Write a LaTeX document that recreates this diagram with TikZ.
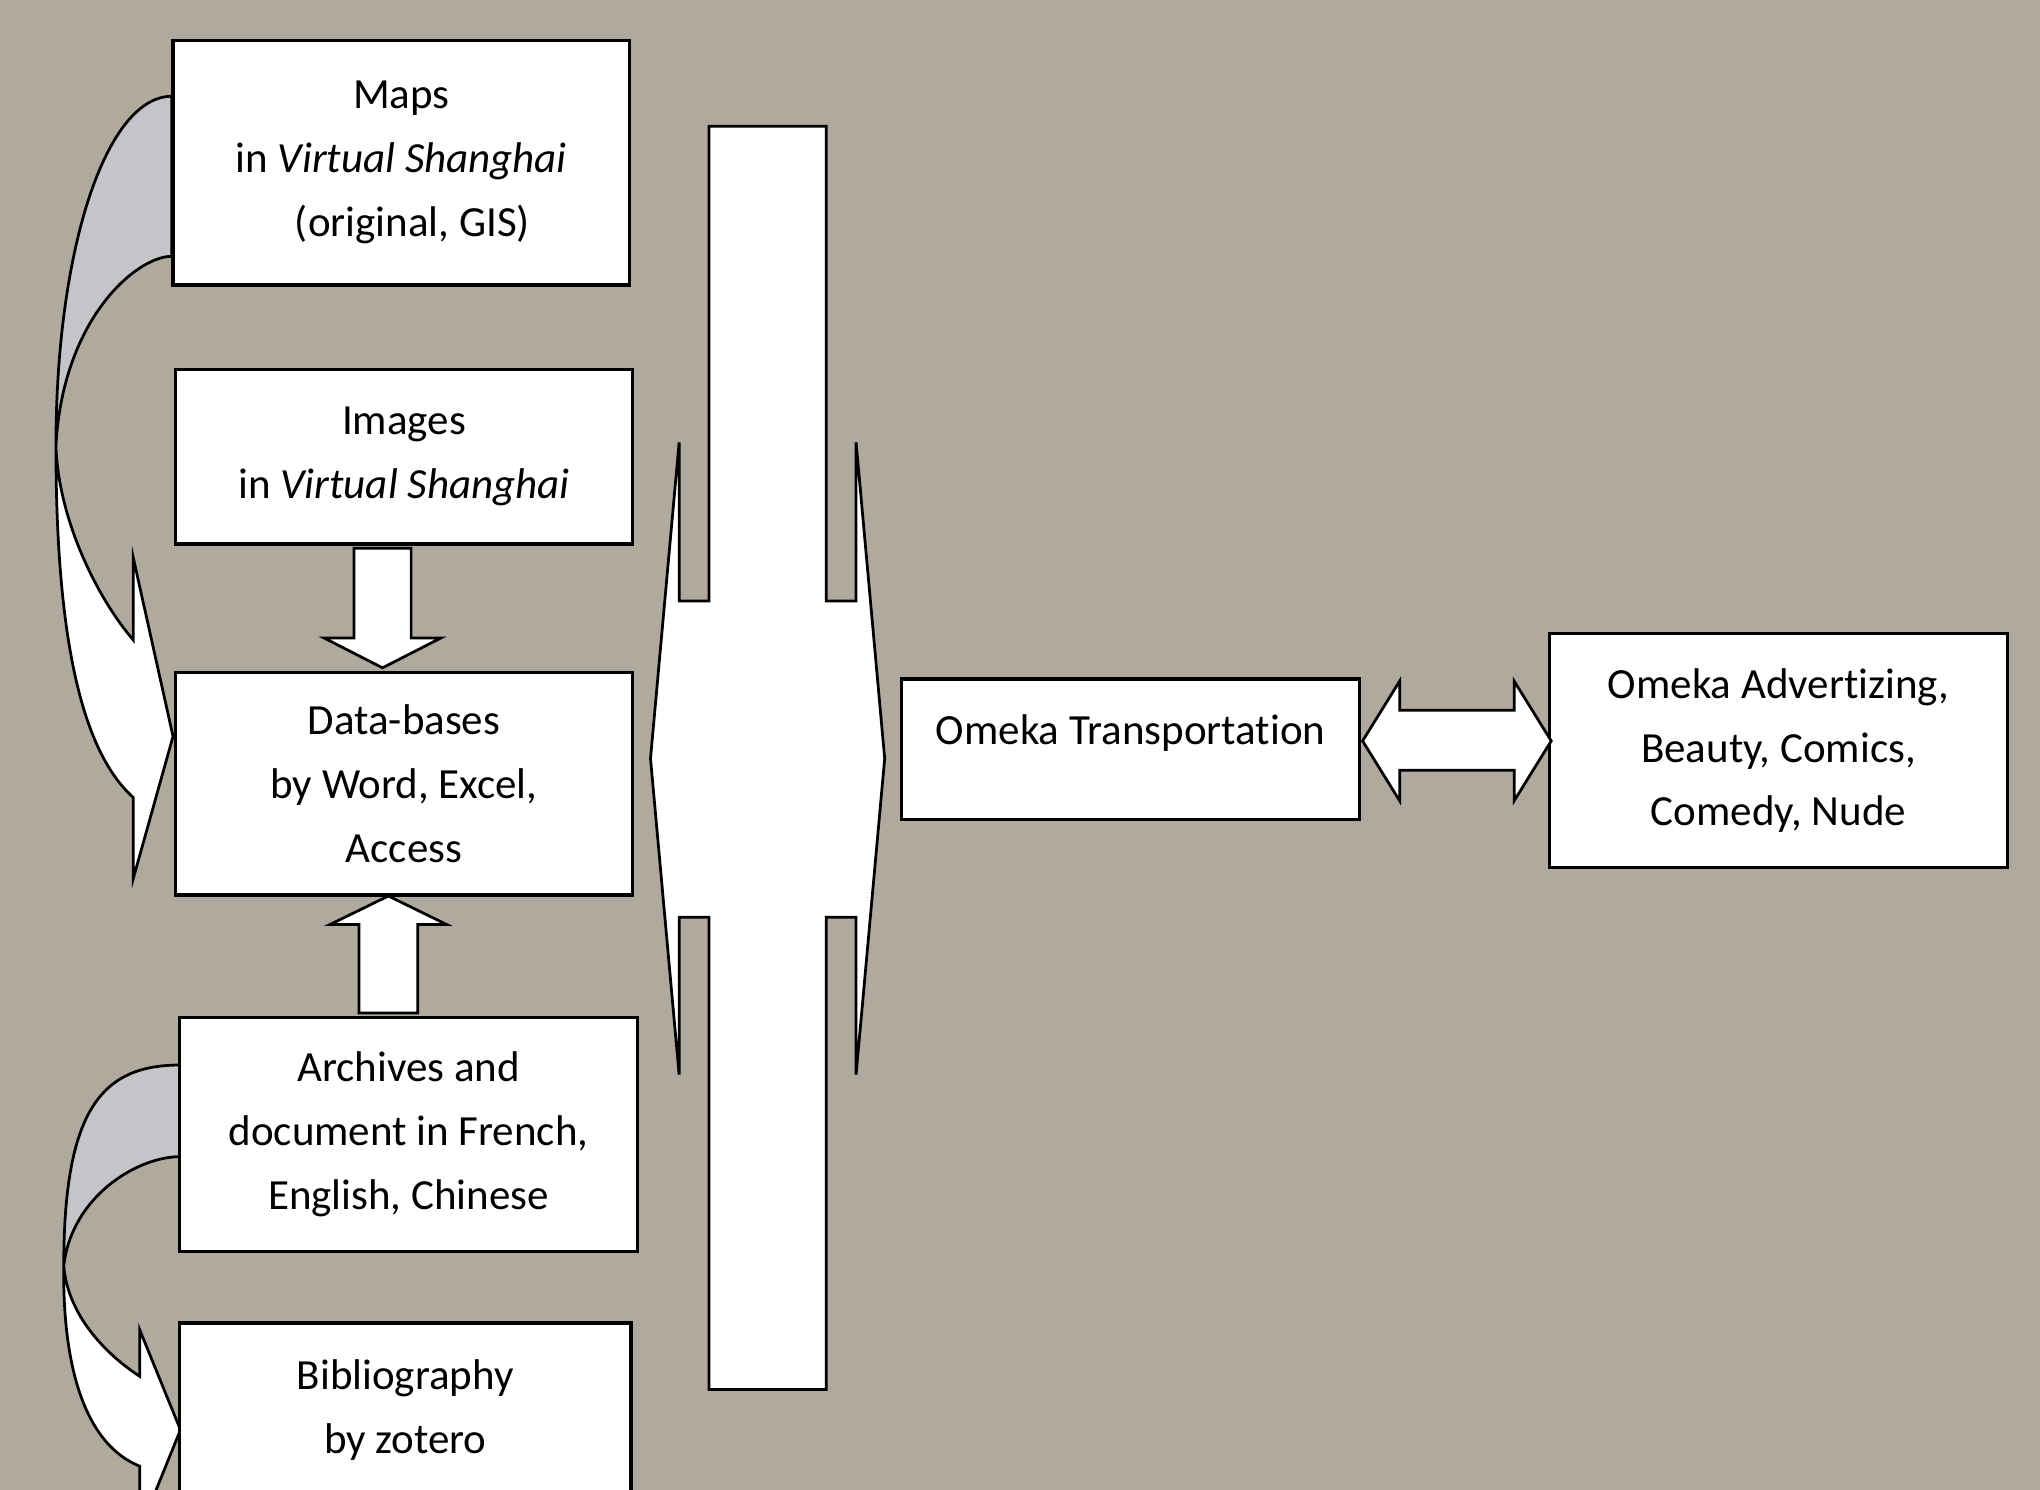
\documentclass[tikz,border=0pt]{standalone}
\usepackage{fontspec}
\setmainfont{Carlito}[Ligatures={NoCommon}]
\definecolor{backdrop}{RGB}{175,169,158}
\definecolor{foldgrey}{RGB}{196,197,200}
\begin{document}
  \begin{tikzpicture}[
    x=0.1mm, y=-0.1mm,
    box/.style={draw, fill=white, line width=0.75pt, inner sep=0pt, minimum width=35.1mm, align=center, font=\fontsize{9.4}{13.95}\selectfont},
    block/.style={draw, fill=white, line width=0.6pt, line join=miter},
    fold/.style={draw, fill=foldgrey, line width=0.6pt}
  ]
    \clip (0,0) rectangle (1568,1145);
    \fill[backdrop] (0,0) rectangle (1568,1145);
    \draw[fold] (132,74) .. controls (82,74) and (43,190) .. (43,343)
      .. controls (48,245) and (105,197) .. (132,197) -- cycle;
    \draw[block] (43,343) .. controls (43,480) and (60,575) .. (102.5,613)
      -- (102.5,675) -- (133,566) -- (102.5,429) -- (102.5,492)
      .. controls (75,460) and (45,400) .. (43,343) -- cycle;
    \draw[fold] (138.7,818.6) .. controls (80,818.6) and (49,850) .. (49,973)
      .. controls (55,920) and (105,889) .. (138.7,889) -- cycle;
    \draw[block] (49,973) .. controls (48,1050) and (65,1110) .. (107.5,1127)
      -- (107.5,1176) -- (138.7,1099) -- (107.5,1022.4) -- (107.5,1058)
      .. controls (80,1040) and (52,1010) .. (49,973) -- cycle;
    \draw[block] (545,97) -- (635,97) -- (635,462) -- (658,462) -- (658,340) -- (680,583)
      -- (658,826) -- (658,705) -- (635,705) -- (635,1068) -- (545,1068) -- (545,705)
      -- (522,705) -- (522,826) -- (500,583) -- (522,340) -- (522,462) -- (545,462) -- cycle;
    \node[box, minimum height=18.8mm] (maps) at (308.5,125) {Maps\\in \textit{Virtual Shanghai}\\\hspace*{1.7mm}(original, GIS)};
    \node[box, minimum height=13.4mm] (images) at (310.5,351) {Images\\in \textit{Virtual Shanghai}};
    \node[box, minimum height=17.1mm] (databases) at (310.5,602.5) {Data-bases\\by Word, Excel,\\Access};
    \node[box, minimum width=35.2mm, minimum height=18mm] (archives) at (314,872) {Archives and\\document in French,\\English, Chinese};
    \node[box, minimum width=34.7mm, minimum height=13.3mm] (biblio) at (311.5,1083.5) {Bibliography\\by zotero};
    \node[box, minimum width=35.2mm, text height=5mm, text depth=5.8mm] (transport) at (869,576) {Omeka Transportation};
    \node[box, minimum width=35.2mm, minimum height=18mm] (advert) at (1367,577) {Omeka Advertizing,\\Beauty, Comics,\\Comedy, Nude};
    \draw[block, shift={(images.south)}] (-38.5,2) -- (-38.5,71) -- (-61.5,71) -- (-16.5,94)
      -- (28.5,71) -- (5.5,71) -- (5.5,2) -- cycle;
    \draw[block, shift={(archives.north)}] (-38,-2) -- (-38,-70) -- (-60.5,-70) -- (-15.5,-92)
      -- (29.5,-70) -- (7,-70) -- (7,-2) -- cycle;
    \draw[block, shift={(transport.east)}] (1,-6.5) -- (29.5,-52.5) -- (29.5,-30) -- (117.5,-30)
      -- (117.5,-52.5) -- (146,-6.5) -- (117.5,39.5) -- (117.5,16) -- (29.5,16) -- (29.5,39.5) -- cycle;
  \end{tikzpicture}
\end{document}
